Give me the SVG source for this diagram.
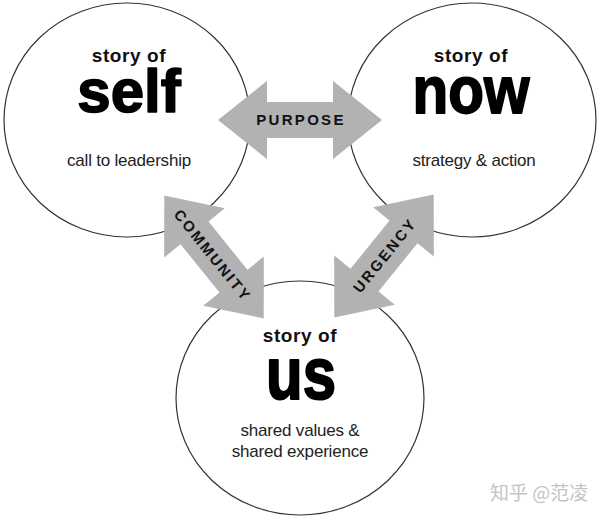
<svg xmlns="http://www.w3.org/2000/svg" width="600" height="518" viewBox="0 0 600 518">
<style>
.circle{fill:#fff;stroke:#333;stroke-width:1.2}
.head{font-family:"Liberation Sans",Arial,sans-serif;font-weight:bold;font-size:19px;letter-spacing:0.6px;text-anchor:middle;fill:#111}
.big{font-family:"Liberation Sans",Arial,sans-serif;font-weight:bold;font-size:60px;text-anchor:middle;fill:#000;stroke:#000;stroke-width:1.6;stroke-linejoin:round}
.sub{font-family:"Liberation Sans",Arial,sans-serif;font-size:17px;letter-spacing:-0.2px;text-anchor:middle;fill:#222}
.arrow{fill:#b2b2b2}
.lbl{font-family:"Liberation Sans",Arial,sans-serif;font-weight:bold;font-size:15px;letter-spacing:2.3px;text-anchor:middle;fill:#111}
.wm{font-family:"Noto Sans CJK SC","Liberation Sans",sans-serif;font-size:19px;fill:#c4c4c4}
</style>
<rect width="600" height="518" fill="#fff"/>
<g id="self">
<ellipse class="circle" cx="127" cy="120" rx="123" ry="117"/>
<text class="head" x="129" y="62">story of</text>
<text class="big" transform="translate(129,112) scale(1,1.02)" x="0" y="0">self</text>
<text class="sub" x="129" y="166">call to leadership</text>
</g>
<g id="now">
<ellipse class="circle" cx="472" cy="120" rx="124" ry="117"/>
<text class="head" x="471" y="62">story of</text>
<text class="big" style="font-size:58.5px" transform="translate(471,113) scale(1,1.15)" x="0" y="0">now</text>
<text class="sub" x="474" y="166">strategy &amp; action</text>
</g>
<g id="us">
<ellipse class="circle" cx="300" cy="398" rx="124" ry="117"/>
<text class="head" x="300" y="342">story of</text>
<text class="big" transform="translate(301,399) scale(1,1.25)" x="0" y="0">us</text>
<text class="sub" x="300" y="436">shared values &amp;</text>
<text class="sub" x="300" y="457">shared experience</text>
</g>
<g id="connectors">
<g id="purpose" transform="translate(300,120)">
<path class="arrow" d="M-82,0 L-33,-39 L-33,-18 L33,-18 L33,-39 L82,0 L33,39 L33,18 L-33,18 L-33,39 Z"/>
<text class="lbl" x="1" y="5.4">PURPOSE</text>
</g>
<g id="community" transform="translate(214,257) rotate(51)">
<path class="arrow" d="M-79,0 L-31,-39 L-31,-18 L31,-18 L31,-39 L79,0 L31,39 L31,18 L-31,18 L-31,39 Z"/>
<text class="lbl" x="-2" y="5.4">COMMUNITY</text>
</g>
<g id="urgency" transform="translate(384,256) rotate(-51)">
<path class="arrow" d="M-79,0 L-31,-39 L-31,-18 L31,-18 L31,-39 L79,0 L31,39 L31,18 L-31,18 L-31,39 Z"/>
<text class="lbl" x="1" y="5.4">URGENCY</text>
</g>
</g>
<text class="wm" x="490" y="500">知乎 @范凌</text>
</svg>
